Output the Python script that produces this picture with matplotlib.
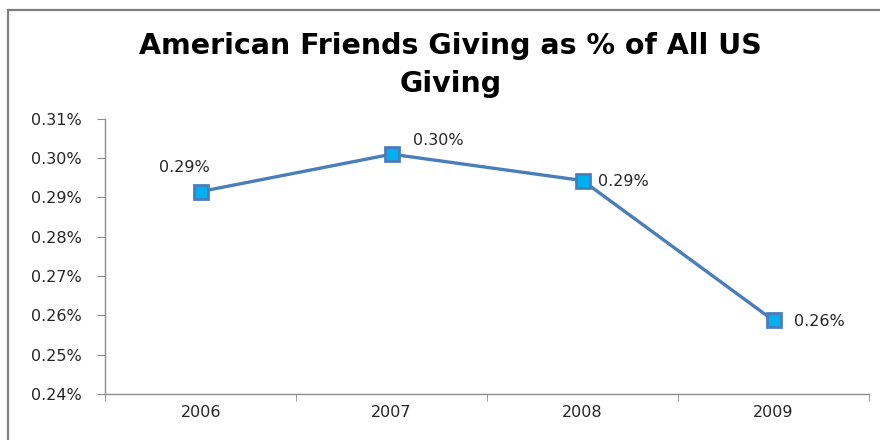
import matplotlib
matplotlib.use("Agg")
import matplotlib.pyplot as plt
from matplotlib.lines import Line2D

plt.rcParams["font.family"] = ["DejaVu Sans"]

# datos (porcentaje del total)
anios = ["2006", "2007", "2008", "2009"]
porcentajes = [0.2915, 0.3010, 0.2943, 0.2587]
etiquetas = ["0.29%", "0.30%", "0.29%", "0.26%"]
# desplazamiento de cada etiqueta respecto al punto (px)
desplazamientos = [(-16, 24), (21, 14), (15, -1), (20, -1)]
ticks_y = [0.24, 0.25, 0.26, 0.27, 0.28, 0.29, 0.30, 0.31]

color_linea = "#4A7EBB"
color_relleno = "#00B0F0"
gris = "#8C8C8C"
texto = "#262626"

fig = plt.figure(figsize=(8.8, 4.4), dpi=100)
ax = fig.add_axes([0.1195, 0.1045, 0.868, 0.6255])

x = list(range(len(anios)))
ax.plot(x, porcentajes, color=color_linea, linewidth=2.4,
        marker="s", markersize=10, markerfacecolor=color_relleno,
        markeredgecolor=color_linea, markeredgewidth=2.0, zorder=3)

for xi, yi, txt, (dx, dy) in zip(x, porcentajes, etiquetas, desplazamientos):
    ha = "center" if dx < 0 else "left"
    ax.annotate(txt, (xi, yi), xytext=(dx, dy), textcoords="offset pixels",
                ha=ha, va="center", fontsize=11.5, color=texto)

ax.set_xlim(-0.5, len(anios) - 0.5)
ax.set_ylim(0.24, 0.31)
ax.set_yticks(ticks_y)
ax.set_yticklabels([f"{v:.2f}%" for v in ticks_y])
ax.set_xticks(x)
ax.set_xticklabels(anios)
ax.set_xticks([i - 0.5 for i in range(len(anios) + 1)], minor=True)
ax.tick_params(axis="x", which="major", length=0, pad=8, labelsize=11.5, labelcolor=texto)
ax.tick_params(axis="x", which="minor", length=5, color=gris, direction="out")
ax.tick_params(axis="y", length=6, color=gris, direction="out", pad=11,
               labelsize=11.5, labelcolor=texto)

for lado in ["top", "right"]:
    ax.spines[lado].set_visible(False)
for lado in ["left", "bottom"]:
    ax.spines[lado].set_color(gris)
    ax.spines[lado].set_linewidth(1.0)

# marco exterior (solo se ven los bordes superior e izquierdo)
fig.add_artist(Line2D([0.009, 1.0], [0.977, 0.977], transform=fig.transFigure,
                      color="#7F7F7F", linewidth=1.6))
fig.add_artist(Line2D([0.009, 0.009], [0.0, 0.977], transform=fig.transFigure,
                      color="#7F7F7F", linewidth=1.6))

fig.text(0.512, 0.853, "American Friends Giving as % of All US\nGiving",
         ha="center", va="center", fontsize=20.5, fontweight="bold",
         linespacing=1.45, color="black")

fig.savefig("out.png", dpi=100)
